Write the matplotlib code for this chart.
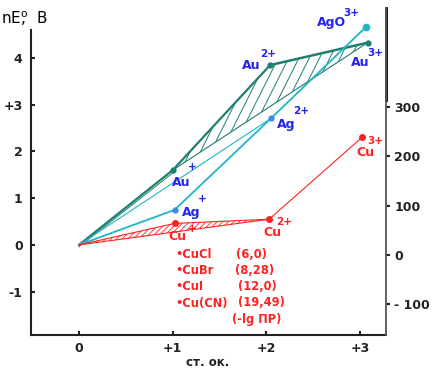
import matplotlib
matplotlib.use("Agg")
import numpy as np
import matplotlib.pyplot as plt
from matplotlib.patches import Polygon
from matplotlib.collections import LineCollection

# ---- data ----
au_x = [0.0, 1.00, 2.04, 3.08]
au_y = [0.0, 1.60, 3.85, 4.33]
ag_x = [0.0, 1.02, 2.05, 3.06]
ag_y = [0.0, 0.75, 2.71, 4.66]
cu_x = [0.0, 1.02, 2.03, 3.02]
cu_y = [0.0, 0.46, 0.55, 2.30]

x_ticks = [0, 1, 2, 3]
x_ticklabels = ["0", "+1", "+2", "+3"]
y_ticks = [-1, 0, 1, 2, 3, 4]
y_ticklabels = ["-1", "0", "1", "2", "+3", "4"]
r_ticks = [-100, 0, 100, 200, 300]
r_ticklabels = ["- 100", "0", "100", "200", "300"]

salts = ["CuCl", "CuBr", "CuI", "Cu(CN)"]
pks = ["(6,0)", "(8,28)", "(12,0)", "(19,49)"]

# ---- styling ----
TEAL = "#1f7f70"
CYAN = "#22b4c8"
BLUE = "#2424ee"
RED = "#ff2222"
AXC = "#222222"

plt.rcParams["hatch.linewidth"] = 0.6
W, H = 432, 375
fig = plt.figure(figsize=(W / 100, H / 100), dpi=100)
L, R, B, T = 31, 386, 335, 8
ax = fig.add_axes([L / W, 1 - B / H, (R - L) / W, (B - T) / H])

x0, xs = 79, 93.67
y0, ys = 244.9, 46.7
xlim = ((L - x0) / xs, (R - x0) / xs)
ylim = ((y0 - B) / ys, (y0 - T) / ys)
ax.set_xlim(*xlim)
ax.set_ylim(*ylim)

# hatched Au triangle: steep hatch lines clipped to the triangle
au_tri = Polygon(list(zip(au_x[1:], au_y[1:])), closed=True, facecolor="none",
                 edgecolor="none", lw=0)
ax.add_patch(au_tri)
slope = 4.0
spacing = 0.11
ylo, yhi = min(au_y[1:]), max(au_y[1:])
starts = np.arange(min(au_x[1:]) - (yhi - ylo) / slope, max(au_x[1:]) + spacing, spacing)
segs = [[(s, ylo), (s + (yhi - ylo) / slope, yhi)] for s in starts]
lc = LineCollection(segs, colors=TEAL, linewidths=0.7)
ax.add_collection(lc)
lc.set_clip_path(au_tri)

# hatched Cu triangle
ax.add_patch(Polygon(list(zip(cu_x[:3], cu_y[:3])), closed=True, facecolor="none",
                     edgecolor=RED, hatch="//////", lw=0))

# Au lines
ax.plot(au_x[:3], au_y[:3], color=TEAL, lw=1.6)
ax.plot(au_x[2:], au_y[2:], color=TEAL, lw=1.8)
ax.plot([au_x[1], au_x[3]], [au_y[1], au_y[3]], color=TEAL, lw=0.8)
ax.plot([au_x[0], au_x[1]], [au_y[0] - 0.04, au_y[1] - 0.06], color=TEAL, lw=0.7)
ax.plot(au_x[1:], au_y[1:], "o", color=TEAL, ms=3.5)

# Ag lines
ax.plot(ag_x, ag_y, color=CYAN, lw=1.3)
ax.plot([ag_x[0], ag_x[2]], [ag_y[0], ag_y[2]], color=CYAN, lw=0.8)
ax.plot(ag_x[1:3], ag_y[1:3], "o", color="#3a8cf0", ms=3.5)
ax.plot(ag_x[3:], ag_y[3:], "o", color=CYAN, ms=4.5)

# Cu lines
ax.plot(cu_x, cu_y, color=RED, lw=0.8)
ax.plot([cu_x[0], cu_x[2]], [cu_y[0], cu_y[2]], color=RED, lw=0.8)
ax.plot(cu_x[1:], cu_y[1:], "o", color=RED, ms=4)

# labels with superscripts (offsets in pixels)
def lab(px, py, main, sup, color, mo, so):
    ax.annotate(main, (px, py), xytext=mo, textcoords="offset pixels",
                ha="left", va="baseline", color=color, fontsize=9, fontweight="bold")
    ax.annotate(sup, (px, py), xytext=so, textcoords="offset pixels",
                ha="left", va="center", color=color, fontsize=7.5, fontweight="bold")

lab(au_x[1], au_y[1], "Au", "+", BLUE, (-1, -16), (15, 3))
lab(ag_x[1], ag_y[1], "Ag", "+", BLUE, (7, -6), (23, 11))
lab(cu_x[1], cu_y[1], "Cu", "+", RED, (-6, -17), (13, -6))
lab(au_x[2], au_y[2], "Au", "2+", BLUE, (-28, -4), (-10, 11))
lab(ag_x[2], ag_y[2], "Ag", "2+", BLUE, (6, -10), (22, 7))
lab(ag_x[3], ag_y[3], "AgO", "3+", BLUE, (-49, 1), (-22, 14))
lab(au_x[3], au_y[3], "Au", "3+", BLUE, (-17, -23), (0, -10))
lab(cu_x[2], cu_y[2], "Cu", "2+", RED, (-6, -17), (7, -3))
lab(cu_x[3], cu_y[3], "Cu", "3+", RED, (-6, -19), (5, -4))

# salts list
rows_y = [254, 271, 287, 303]
right_x = [236, 235, 238, 238]
for s, p, yy, rx in zip(salts, pks, rows_y, right_x):
    fig.text(175 / W, 1 - yy / H, "•" + s, color=RED, fontsize=8.3, fontweight="bold",
             ha="left", va="center")
    fig.text(rx / W, 1 - yy / H, p, color=RED, fontsize=8.3, fontweight="bold",
             ha="left", va="center")
fig.text(232 / W, 1 - 320 / H, "(-lg ПР)", color=RED, fontsize=8.3, fontweight="bold",
         ha="left", va="center")

# axes styling
ax.spines["top"].set_visible(False)
ax.spines["left"].set_bounds(ylim[0], (y0 - 30) / ys)
ax.spines["right"].set_bounds((y0 - 100) / ys, ylim[1])
ax.spines["right"].set_linewidth(2)
ax.spines["right"].set_color("black")
for sp in ["left", "bottom"]:
    ax.spines[sp].set_linewidth(1.5)
    ax.spines[sp].set_color(AXC)

ax.set_xticks(x_ticks)
ax.set_xticklabels(x_ticklabels)
ax.set_yticks(y_ticks)
ax.set_yticklabels(y_ticklabels)
ax.tick_params(axis="both", direction="in", length=3, width=1.5, colors=AXC,
               labelsize=9, pad=5)
ax.tick_params(axis="y", pad=6)
for t in ax.get_xticklabels() + ax.get_yticklabels():
    t.set_fontweight("bold")

a_r, b_r = -0.217, 0.010581
ax2 = ax.twinx()
ax2.set_ylim((ylim[0] - a_r) / b_r, (ylim[1] - a_r) / b_r)
for sp in ["top", "left", "bottom"]:
    ax2.spines[sp].set_visible(False)
ax2.spines["right"].set_color("#555555")
ax2.spines["right"].set_linewidth(1.3)
ax2.set_yticks(r_ticks)
ax2.set_yticklabels(r_ticklabels)
ax2.tick_params(axis="y", direction="out", length=3, width=1.5, colors=AXC,
                labelsize=9, pad=3)
for t in ax2.get_yticklabels():
    t.set_fontweight("bold")

fig.text(208 / W, 1 - 363 / H, "ст. ок.", color=AXC, fontsize=8.5, fontweight="bold",
         ha="center", va="center")
# y-axis title: nE°, B  (superscript o sits above the comma)
fig.text(1 / W, 1 - 24 / H, r"$\mathregular{nE^{o}\!\!\!,\;\;B}$", color="black",
         fontsize=11, ha="left", va="baseline")

fig.savefig("out.png", dpi=100)
